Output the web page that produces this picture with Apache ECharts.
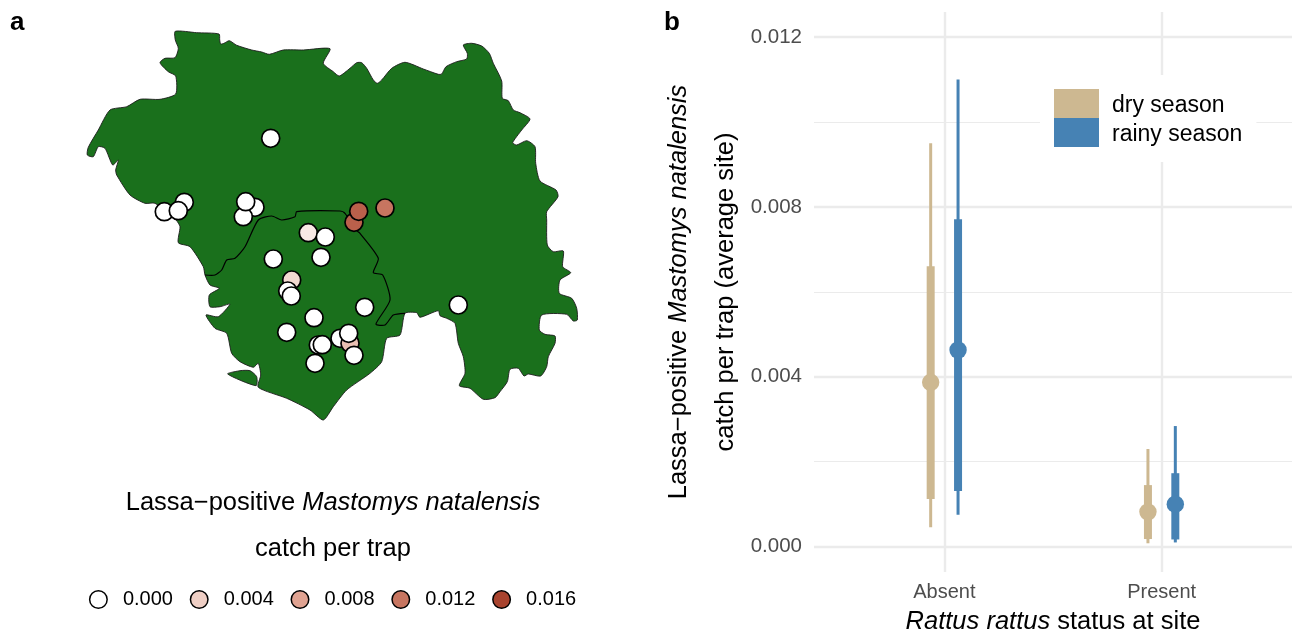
<!DOCTYPE html>
<html><head><meta charset="utf-8">
<style>html,body{margin:0;padding:0;background:#fff}#c{width:1293px;height:634px}</style>
<script src="https://cdn.jsdelivr.net/npm/echarts@6/dist/echarts.min.js"></script>
</head><body><div id="c"></div>
<script>
// ---- panel a: map shapes (map units)
const mapOutline=[[175.3,31.3],[196.7,32.7],[219,34],[219.7,40],[220.7,44],[224,43.3],[229.3,40.7],[236.7,45.3],[251.7,50],[261.7,52],[269.3,54.3],[283.3,50],[303.3,50],[330,48.7],[323.3,63.3],[333.3,71.7],[339.3,76],[350,68.3],[356.7,62.7],[361.7,62.7],[366.7,68.3],[373.3,80],[377.3,83.3],[381.7,80],[391.7,68.3],[405,62.3],[423.3,69],[438.3,74.3],[441.7,74],[446,66.7],[456.7,61.7],[466.7,59],[467.3,53.3],[463.3,45],[471.7,43.3],[481.7,46],[489.3,53.3],[493.3,63.3],[501.7,81],[502.3,98.3],[508.3,100.7],[513.3,110],[520,112.7],[530,119],[521.7,130],[512.7,142.7],[516.7,145],[526.7,140.7],[535,146.7],[535.7,163.3],[540,181],[556,190],[558,196.7],[546.7,211.7],[546.7,220],[547.3,245],[553.3,251.7],[563.3,251],[562.7,266.7],[570.7,272.7],[560,280],[559.3,293.3],[571.7,298.3],[576.7,308.3],[577.3,320],[573.3,321],[566.7,314.3],[541.7,315],[539.3,330],[545,334.3],[555,336],[555,343.3],[548.3,356.7],[546.7,366.7],[540.7,376],[528.3,374],[524,376],[518.3,368.3],[510,369.3],[507.3,381.7],[500,391.7],[495,397.7],[483.3,399.3],[470,388.3],[459.3,385.7],[465,373.3],[463.3,356.7],[458.3,343.3],[455,323.3],[446.7,318.3],[440,315.7],[438.3,310.7],[420,317.3],[416.7,312.7],[405,313.3],[400,335],[386.7,338.3],[381.7,361.7],[370,373.3],[346.7,390],[333.3,406.7],[323.3,420],[310,410],[286.7,398.3],[258.3,387.3],[260.7,375],[258.3,363.3],[253.3,367.3],[240,361.7],[231.7,353.3],[226.7,333.3],[215,328.3],[206,315],[218.3,316.7],[230,304],[220,306.7],[210,306.7],[209.3,295],[219.3,288.3],[210,285],[205,275],[203.3,266.7],[190,246.7],[178.3,242.7],[180,226.7],[176,220],[155,203.3],[145,203.3],[130,195],[116.7,175],[115.7,170],[118.3,160],[112.7,165],[105,148.3],[98.3,146.7],[93.3,156.7],[87.3,155],[88.3,147.3],[98.3,130],[110,110],[126.7,106.7],[140,99.3],[160,99.3],[175.7,94],[175.7,76],[168.3,71.7],[160,62.7],[165,58.3],[175,57.7],[178.3,48.3],[175.3,40]];
const islandOutline=[[227.7,374],[240,370.7],[250,370.7],[256.7,376.7],[256,385.7]];
const regionBorder=[[205,275],[215,275],[221.7,270],[226.7,260],[235,258.3],[245,246.7],[258.3,220],[271.7,216],[281.7,220],[295,216.7],[296.7,211.7],[340,211],[345,213.3],[356.7,230.7],[360,233.3],[378.3,258.3],[373.3,272.7],[382.7,275],[390,300],[376,324],[385,325],[393.3,315],[405,313.3]];
// ---- panel a: sites [x, y, catch per trap]
const siteX=[270.7,184.3,164.3,178.3,255,243.3,245.7,308.3,325.3,354,358.7,385,273.3,321,291.7,287.7,291.3,364.7,314,286.7,340,350,348.7,354,318.3,322.3,315,458.3];
const siteY=[138.3,202.3,211.7,210.7,207.3,216.7,201.7,232.7,237,222.3,211.3,208,259,257.3,280,291,296,307.3,317.7,332.3,338.3,343.3,333.3,355.3,345,344.7,363.3,305];
const siteCatch=[0,0,0,0,0,0,0,0.0018,0,0.0137,0.0137,0.012,0,0,0.0032,0,0,0,0,0,0,0.0055,0,0,0,0,0,0];
const catchLegend=[0,0.004,0.008,0.012,0.016];
const catchColours=['#ffffff','#efcfc5','#e0a392','#c77560','#a8432e'];
// ---- panel b
const rattusStatus=['Absent','Present'];
const seasons=['dry season','rainy season'];
const seasonColours=['#cdb891','#4682b4'];
const dryMean=[0.00387,0.00082], dryInnerLow=[0.00112,0.00018], dryInnerHigh=[0.0066,0.00145], dryOuterLow=[0.00046,0.00008], dryOuterHigh=[0.0095,0.0023];
const rainyMean=[0.00463,0.001], rainyInnerLow=[0.00131,0.00017], rainyInnerHigh=[0.00771,0.00173], rainyOuterLow=[0.00075,0.0001], rainyOuterHigh=[0.011,0.00284];
const yMajorTicks=[0,0.004,0.008,0.012];
const yMinorTicks=[0.002,0.006,0.01];

const shapes=[mapOutline,islandOutline,regionBorder];
const GREEN='#1a701c';
function mapItem(p,api){
  const pts=shapes[api.value(0)].map(c=>api.coord(c));
  const closed=api.value(0)<2;
  return {type:closed?'polygon':'polyline',shape:{points:pts,smooth:0.22},
    style:closed?{fill:GREEN,stroke:'#1c1c1c',lineWidth:0.9,lineJoin:'round'}:{fill:null,stroke:'#000',lineWidth:1.2,lineJoin:'round'}};
}
function rangeItem(dodge,color){
  return function(p,api){
    const i=api.value(0);
    const x=i+dodge;
    const seg=(a,b,w)=>{const s=api.coord([x,a]),e=api.coord([x,b]);return {type:'line',shape:{x1:s[0],y1:s[1],x2:e[0],y2:e[1]},style:{stroke:color,lineWidth:w}};};
    const m=api.coord([x,api.value(1)]);
    return {type:'group',children:[seg(api.value(4),api.value(5),3),seg(api.value(2),api.value(3),8),
      {type:'circle',shape:{cx:m[0],cy:m[1],r:8.7},style:{fill:color}}]};
  };
}
const rows=(mean,il,ih,ol,oh)=>rattusStatus.map((_,i)=>[i,mean[i],il[i],ih[i],ol[i],oh[i]]);
const FONT='"Liberation Sans",Arial,sans-serif';
const rich={n:{fontFamily:FONT,fontSize:25.5,fontWeight:'normal',color:'#000'},i:{fontFamily:FONT,fontSize:25.5,fontStyle:'italic',fontWeight:'normal',color:'#000'}};

const option={
  animation:false,backgroundColor:'#fff',
  textStyle:{fontFamily:FONT},
  title:[
    {text:'a',left:10,top:10,padding:0,textStyle:{fontFamily:FONT,fontSize:26,fontWeight:'bold',color:'#000'}},
    {text:'b',left:664,top:10,padding:0,textStyle:{fontFamily:FONT,fontSize:26,fontWeight:'bold',color:'#000'}},
    {text:'{n|Lassa\u2212positive }{i|Mastomys natalensis}',left:333,top:490,padding:0,textAlign:'center',textStyle:{rich,fontWeight:'normal'}},
    {text:'{n|catch per trap}',left:333,top:536,padding:0,textAlign:'center',textStyle:{rich,fontWeight:'normal'}}
  ],
  grid:[
    {left:0,top:0,width:600,height:460,outerBoundsMode:'none'},
    {left:48,top:589.5,width:504,height:20,outerBoundsMode:'none'},
    {left:814,top:12,width:478,height:560,outerBoundsMode:'none'}
  ],
  xAxis:[
    {gridIndex:0,type:'value',min:0,max:600,show:false},
    {gridIndex:1,type:'category',data:catchLegend.map(v=>v.toFixed(3)),show:false},
    {gridIndex:2,type:'value',min:-0.6,max:1.6,
      axisLine:{show:false},axisTick:{show:false,customValues:[0,1]},
      axisLabel:{customValues:[0,1],formatter:v=>rattusStatus[v],fontFamily:FONT,fontSize:20,color:'#4d4d4d',margin:10},
      splitLine:{show:true,lineStyle:{color:'#ebebeb',width:2.4}},
      name:'{i|Rattus rattus}{n| status at site}',nameLocation:'middle',nameGap:50,nameMoveOverlap:false,
      nameTextStyle:{rich,verticalAlign:'middle'}}
  ],
  yAxis:[
    {gridIndex:0,type:'value',min:0,max:460,inverse:true,show:false},
    {gridIndex:1,type:'value',min:-1,max:1,show:false},
    {gridIndex:2,type:'value',min:-0.000596,max:0.012588,
      axisLine:{show:false},axisTick:{show:false,customValues:yMajorTicks},
      axisLabel:{customValues:yMajorTicks,formatter:v=>v.toFixed(3),fontFamily:FONT,fontSize:20.5,color:'#4d4d4d',margin:12},
      splitLine:{show:true,lineStyle:{color:'#ebebeb',width:2.4}},
      name:'{n|Lassa\u2212positive }{i|Mastomys natalensis}\n{n|catch per trap (average site)}',
      nameLocation:'middle',nameGap:65,nameMoveOverlap:false,nameTextStyle:{rich,lineHeight:47,align:'center'}},
    {gridIndex:2,type:'value',min:-0.000596,max:0.012588,position:'left',
      axisLine:{show:false},axisTick:{show:false,customValues:yMinorTicks},
      axisLabel:{show:false,customValues:yMinorTicks},
      splitLine:{show:true,lineStyle:{color:'#ebebeb',width:1.2}}}
  ],
  visualMap:{show:false,type:'continuous',seriesIndex:[1,2],dimension:2,min:0,max:0.016,inRange:{color:catchColours}},
  legend:{show:true,orient:'vertical',left:1040,top:75,icon:'rect',itemWidth:45,itemHeight:29,itemGap:0,
    backgroundColor:'#fff',padding:[14,14,15,14],data:seasons,selectedMode:false,
    formatter:'{s|{name}}',
    textStyle:{fontFamily:FONT,fontSize:23,color:'#000',padding:[0,0,0,8],
      rich:{s:{fontFamily:FONT,fontSize:23,color:'#000',padding:[5,0,0,0]}}}},
  series:[
    {type:'custom',name:'map',xAxisIndex:0,yAxisIndex:0,data:[[0],[1],[2]],renderItem:mapItem,silent:true,encode:{x:0},clip:false},
    {type:'scatter',name:'sites',xAxisIndex:0,yAxisIndex:0,symbolSize:18,z:5,
      data:siteX.map((x,i)=>[x,siteY[i],siteCatch[i]]),
      itemStyle:{borderColor:'#000',borderWidth:1.7,opacity:1}},
    {type:'scatter',name:'catch legend',xAxisIndex:1,yAxisIndex:1,symbolSize:17.5,z:5,
      data:catchLegend.map((v,i)=>[i,0,v]),
      itemStyle:{borderColor:'#000',borderWidth:1.5,opacity:1},
      label:{show:true,position:'right',distance:15,formatter:p=>p.value[2].toFixed(3),fontFamily:FONT,fontSize:20,color:'#000'}},
    {type:'custom',name:seasons[0],xAxisIndex:2,yAxisIndex:2,itemStyle:{color:seasonColours[0]},z:3,
      data:rows(dryMean,dryInnerLow,dryInnerHigh,dryOuterLow,dryOuterHigh),renderItem:rangeItem(-0.063,seasonColours[0]),encode:{x:0,y:1}},
    {type:'custom',name:seasons[1],xAxisIndex:2,yAxisIndex:2,itemStyle:{color:seasonColours[1]},z:3,
      data:rows(rainyMean,rainyInnerLow,rainyInnerHigh,rainyOuterLow,rainyOuterHigh),renderItem:rangeItem(0.063,seasonColours[1]),encode:{x:0,y:1}}
  ]
};
echarts.init(document.getElementById('c'),null,{renderer:'canvas'}).setOption(option);
</script></body></html>
